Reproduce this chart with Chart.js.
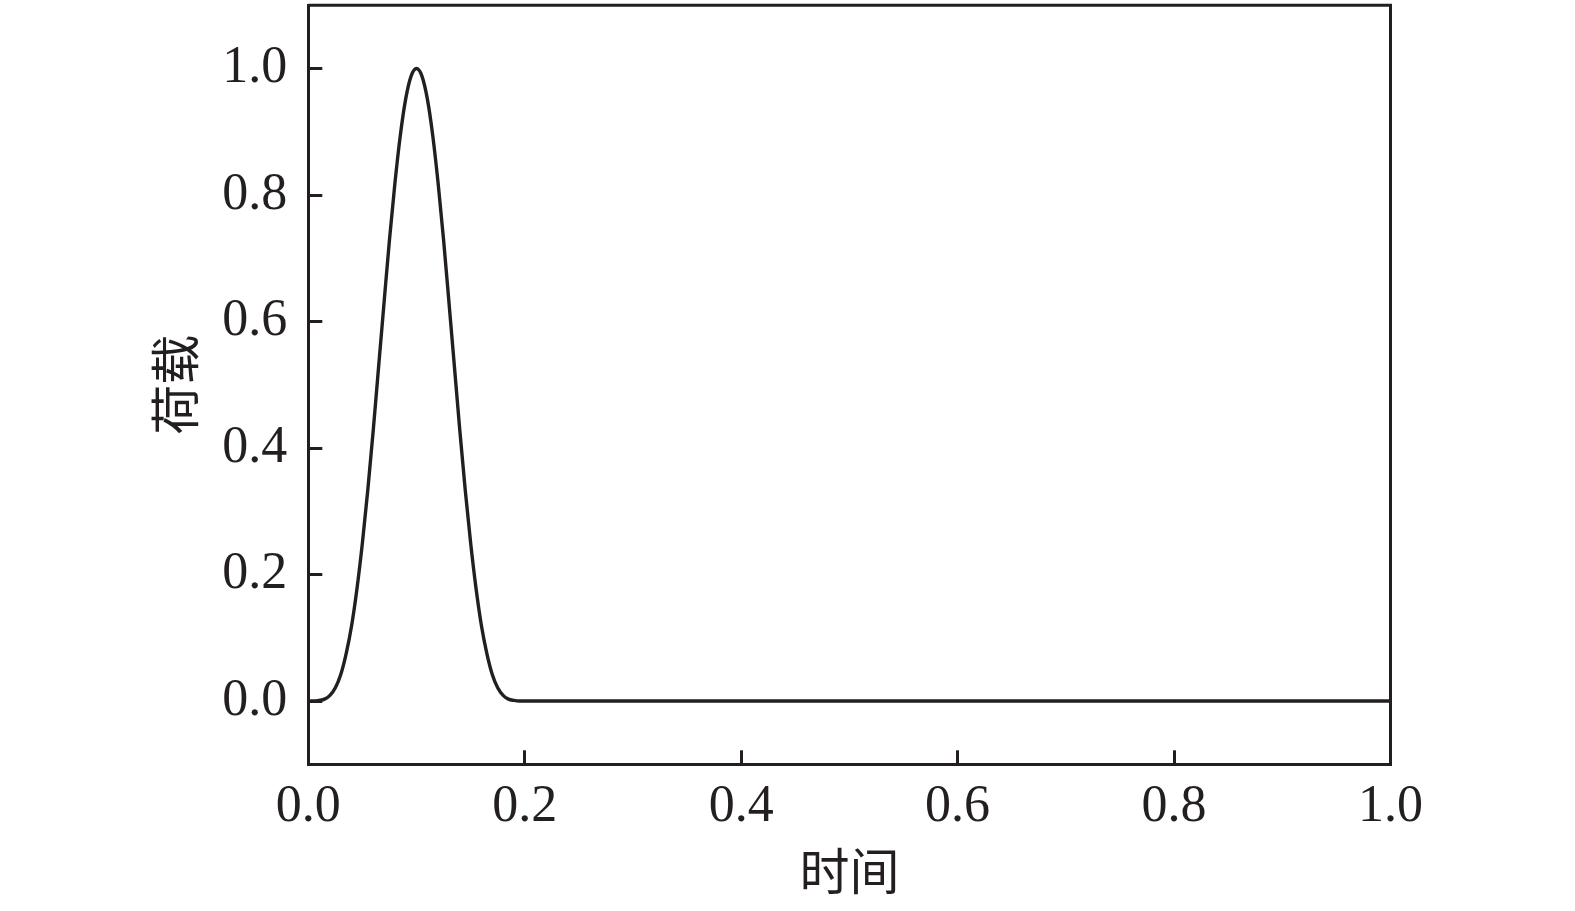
<!DOCTYPE html>
<html>
<head>
<meta charset="utf-8">
<script src="https://cdn.jsdelivr.net/npm/chart.js@4"></script>
<style>
  html, body { margin: 0; padding: 0; background: #ffffff; }
  #wrap { width: 1575px; height: 911px; }
</style>
</head>
<body>
<div id="wrap"><canvas id="c" width="1575" height="911"></canvas></div>
<script>
// Time values (x) and load values (y)
const times = [
  0.000, 0.005, 0.010, 0.015, 0.020, 0.025, 0.030, 0.035, 0.040, 0.045,
  0.050, 0.055, 0.060, 0.065, 0.070, 0.075, 0.080, 0.085, 0.090, 0.095,
  0.100, 0.105, 0.110, 0.115, 0.120, 0.125, 0.130, 0.135, 0.140, 0.145,
  0.150, 0.155, 0.160, 0.165, 0.170, 0.175, 0.180, 0.185, 0.190, 0.195,
  0.200, 0.300, 0.400, 0.500, 0.600, 0.700, 0.800, 0.900, 1.000
];
const loads = [
  0.000, 0.000, 0.001, 0.003, 0.009, 0.021, 0.042, 0.075, 0.119, 0.178,
  0.250, 0.334, 0.428, 0.529, 0.630, 0.729, 0.818, 0.894, 0.952, 0.988,
  1.000, 0.988, 0.952, 0.894, 0.818, 0.729, 0.630, 0.529, 0.428, 0.334,
  0.250, 0.178, 0.119, 0.075, 0.042, 0.021, 0.009, 0.003, 0.001, 0.000,
  0.000, 0.000, 0.000, 0.000, 0.000, 0.000, 0.000, 0.000, 0.000
];
const xTicks = [0.0, 0.2, 0.4, 0.6, 0.8, 1.0];
const yTicks = [0.0, 0.2, 0.4, 0.6, 0.8, 1.0];
const xTitle = '时间';
const yTitle = '荷载';

const ink = '#231f20';
const tickFont = { family: '"Liberation Serif", "DejaVu Serif", serif', size: 52 };
const titleFont = { family: '"Noto Sans CJK SC", sans-serif', size: 50 };

const points = times.map((t, i) => ({ x: t, y: loads[i] }));

const frame = {
  id: 'frame',
  afterDraw(chart) {
    const { ctx, chartArea: a } = chart;
    ctx.save();
    ctx.strokeStyle = ink;
    ctx.lineWidth = 3;
    ctx.beginPath();
    ctx.moveTo(a.left, a.top);
    ctx.lineTo(a.right, a.top);
    ctx.lineTo(a.right, a.bottom);
    ctx.stroke();
    ctx.restore();
  }
};

new Chart(document.getElementById('c'), {
  type: 'line',
  data: {
    datasets: [{
      data: points,
      borderColor: ink,
      borderWidth: 3.4,
      pointRadius: 0,
      fill: false,
      cubicInterpolationMode: 'monotone'
    }]
  },
  options: {
    responsive: false,
    animation: false,
    devicePixelRatio: 1,
    layout: { padding: { left: 0, right: 184.5, top: 5.3, bottom: 0 } },
    plugins: { legend: { display: false }, tooltip: { enabled: false } },
    scales: {
      x: {
        type: 'linear',
        min: 0, max: 1,
        afterBuildTicks: s => { s.ticks = xTicks.map(v => ({ value: v })); },
        afterFit: s => { s.height = 146.7; s.paddingLeft = 0; s.paddingRight = 0; },
        ticks: {
          autoSkip: false, maxRotation: 0, color: ink, font: tickFont, padding: 26,
          callback: v => Number(v).toFixed(1)
        },
        grid: { drawOnChartArea: false, drawTicks: true, tickLength: -14, tickWidth: 3, tickColor: ink },
        border: { display: true, color: ink, width: 3 },
        title: { display: true, text: xTitle, color: ink, font: titleFont, padding: { top: 0, bottom: 10 } }
      },
      y: {
        type: 'linear',
        min: -0.1, max: 1.1,
        afterBuildTicks: s => { s.ticks = yTicks.map(v => ({ value: v })); },
        afterFit: s => { s.width = 308.3; s.paddingTop = 0; s.paddingBottom = 0; },
        ticks: {
          autoSkip: false, color: ink, font: tickFont, padding: 35,
          callback: v => Number(v).toFixed(1)
        },
        grid: { drawOnChartArea: false, drawTicks: true, tickLength: -14, tickWidth: 3, tickColor: ink },
        border: { display: true, color: ink, width: 3 },
        title: { display: true, text: yTitle, color: ink, font: titleFont, padding: { top: 145, bottom: 0 } }
      }
    }
  },
  plugins: [frame]
});
</script>
</body>
</html>
